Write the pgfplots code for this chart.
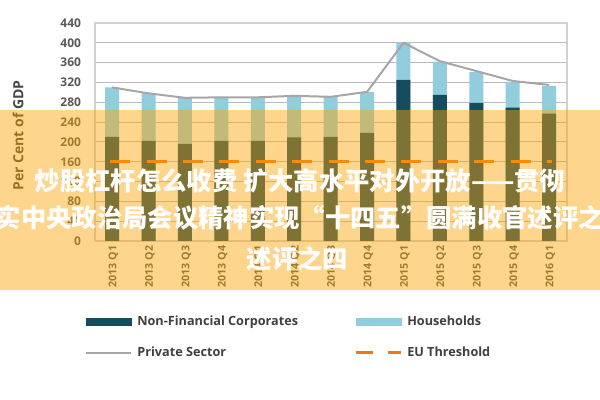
\documentclass[border=0pt]{standalone}
\usepackage{pgfplots}
\pgfplotsset{compat=1.18}
\usepackage{pgfplotstable}
\usepackage{fontspec}
\setmainfont{Open Sans}
\newfontfamily\cjk{Noto Sans CJK SC}

\definecolor{nfc}{RGB}{22,76,96}
\definecolor{hh}{RGB}{146,205,221}
\definecolor{priv}{RGB}{166,166,166}
\definecolor{eu}{RGB}{235,120,25}
\definecolor{ovl}{RGB}{253,164,0}
\definecolor{tick}{RGB}{89,89,89}

% quarter, non-financial corporates, corporates + households, private sector
\pgfplotstableread{
x nfc total private
0  210 310 310
1  202 298 298
2  196 289 289
3  202 291 290
4  202 290 290
5  209 293 293
6  210 291 291
7  218 301 301
8  325 400 400
9  295 362 363
10 279 341 343
11 269 321 323
12 257 313 315
}\debt

\begin{document}
\begin{tikzpicture}
\clip (0,0) rectangle (450pt,300pt);
\fill[white] (0,0) rectangle (450pt,300pt);
\begin{axis}[
  at={(71.25pt,119.25pt)}, anchor=south west,
  scale only axis, width=354pt, height=163.5pt,
  xmin=-0.47, xmax=12.49, ymin=0, ymax=440,
  ytick={0,40,...,440},
  xtick={0,...,12},
  xticklabels={2013 Q1,2013 Q2,2013 Q3,2013 Q4,2014 Q1,2014 Q2,2014 Q3,2014 Q4,2015 Q1,2015 Q2,2015 Q3,2015 Q4,2016 Q1},
  major tick length=0pt,
  ymajorgrids, grid style={draw=black!27, line width=0.8pt},
  axis line style={draw=black!18, line width=0.8pt},
  /pgf/number format/assume math mode=true,
  ticklabel style={font=\fontsize{9}{10}\selectfont\bfseries, text=tick},
  yticklabel style={xshift=-7pt},
  xticklabel style={rotate=90, anchor=east, yshift=-1pt, font=\fontsize{8}{9}\selectfont\bfseries},
  ylabel={Per Cent of GDP},
  ylabel style={at={(axis description cs:-0.163,0.484)}, anchor=center,
    font=\fontsize{10.5}{12}\selectfont\bfseries, text=black!72},
  legend columns=2,
  legend style={at={(axis description cs:-0.021,-0.342)}, anchor=north west,
    draw=none, fill=none, inner sep=0pt, column sep=3.75pt, row sep=14.5pt,
    font=\fontsize{9.5}{11}\selectfont\bfseries, text=black!75,
    nodes={inner sep=0pt, anchor=west}},
]
\addplot[ybar, bar width=10.5pt, bar shift=0pt, draw=none, fill=hh, forget plot]
  table[x=x, y=total] {\debt};
\addplot[ybar, bar width=10.5pt, bar shift=0pt, draw=none, fill=nfc, forget plot]
  table[x=x, y=nfc] {\debt};
\addplot[priv, line width=1.5pt, no markers, forget plot]
  table[x=x, y=private] {\debt};
\addplot[eu, line width=2.2pt, dash pattern=on 15pt off 12.3pt, forget plot]
  coordinates {(-0.055,160) (12.08,160)};

\addlegendimage{legend image code/.code={\fill[nfc] (0,-2.6pt) rectangle (33.75pt,2.6pt);}}
\addlegendentry{\makebox[159pt][l]{Non-Financial Corporates}}
\addlegendimage{legend image code/.code={\fill[hh] (0,-2.6pt) rectangle (33.75pt,2.6pt);}}
\addlegendentry{Households}
\addlegendimage{legend image code/.code={\draw[priv, line width=1.5pt] (0,0) -- (33.75pt,0);}}
\addlegendentry{\makebox[159pt][l]{Private Sector}}
\addlegendimage{legend image code/.code={\draw[eu, line width=2.2pt] (0,0) -- (13pt,0) (24pt,0) -- (33.75pt,0);}}
\addlegendentry{EU Threshold}
\end{axis}

% overlay band with caption text
\fill[ovl, opacity=0.45] (0,82.5pt) rectangle (450pt,217.5pt);
\begin{scope}[every node/.style={text=white, font=\cjk\bfseries\fontsize{19}{21}\selectfont, inner sep=0pt}]
\node at (225pt,164.25pt) {炒股杠杆怎么收费 扩大高水平对外开放——贯彻};
\node at (225pt,136.5pt) {实中央政治局会议精神实现“十四五”圆满收官述评之};
\node at (223pt,105.75pt) {述评之四};
\end{scope}
\end{tikzpicture}
\end{document}
